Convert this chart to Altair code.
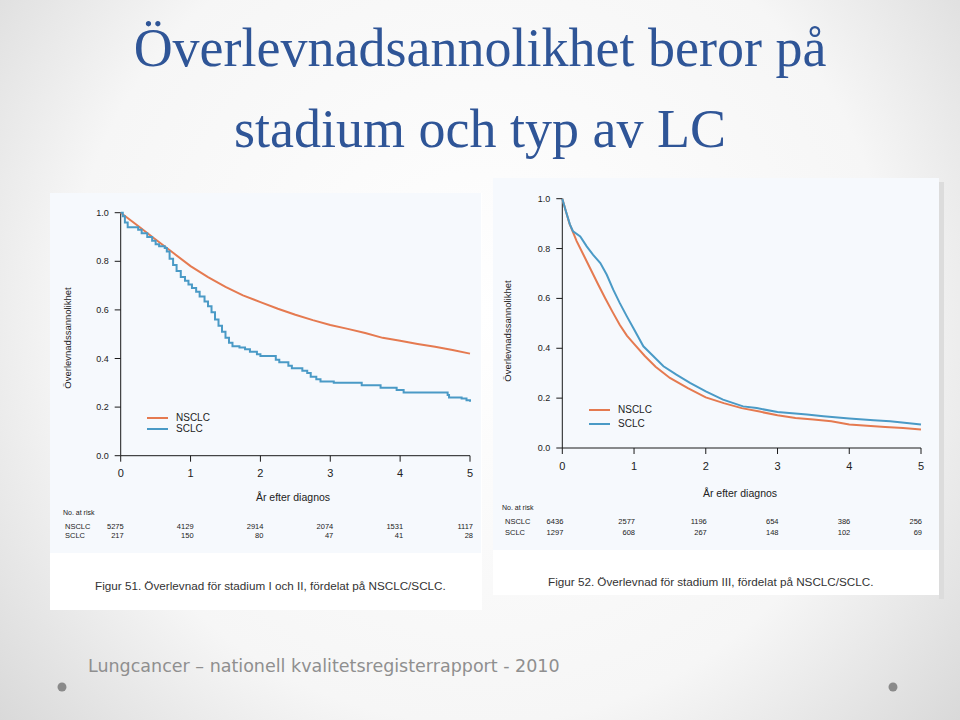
import altair as alt
import pandas as pd

W, H = 960, 720
ORANGE = "#E57A50"
BLUE = "#4A9AC6"
INK = "#1a1a1a"
SERIES = ["NSCLC", "SCLC"]
YEARS = [0, 1, 2, 3, 4, 5]
Y_TICKS = [0.0, 0.2, 0.4, 0.6, 0.8, 1.0]

TITLE_1 = "Överlevnadsannolikhet beror på"
TITLE_2 = "stadium och typ av LC"
FOOTER = "Lungcancer \u2013 nationell kvalitetsregisterrapport - 2010"
CAPTION_L = "Figur 51. Överlevnad för stadium I och II, fördelat på NSCLC/SCLC."
CAPTION_R = "Figur 52. Överlevnad för stadium III, fördelat på NSCLC/SCLC."
Y_TITLE = "Överlevnadssannolikhet"
X_TITLE = "År efter diagnos"
RISK_TITLE = "No. at risk"

# ---- Figure 51 (stadium I och II) ----
L_NSCLC_T = [0, 0.25, 0.5, 0.75, 1, 1.25, 1.5, 1.75, 2, 2.25, 2.5, 2.75, 3, 3.25,
             3.5, 3.75, 4, 4.25, 4.5, 4.75, 5]
L_NSCLC_S = [1.0, 0.945, 0.89, 0.835, 0.78, 0.735, 0.695, 0.66, 0.632, 0.605, 0.58,
             0.558, 0.538, 0.522, 0.505, 0.485, 0.473, 0.46, 0.448, 0.435, 0.42]
L_SCLC_T = [0, 0.03, 0.06, 0.1, 0.25, 0.3, 0.38, 0.45, 0.5, 0.55, 0.63, 0.66, 0.7,
            0.75, 0.8, 0.86, 0.92, 0.97, 1.02, 1.08, 1.13, 1.2, 1.25, 1.3, 1.35, 1.4,
            1.45, 1.5, 1.55, 1.6, 1.7, 1.78, 1.85, 1.95, 2.0, 2.22, 2.27, 2.4, 2.45,
            2.6, 2.67, 2.72, 2.8, 2.86, 3.05, 3.45, 3.72, 3.95, 4.05, 4.68, 4.7, 4.88,
            4.95, 5.0]
L_SCLC_S = [1.0, 0.985, 0.96, 0.94, 0.93, 0.915, 0.9, 0.885, 0.87, 0.862, 0.855, 0.84,
            0.81, 0.785, 0.76, 0.735, 0.72, 0.705, 0.69, 0.675, 0.655, 0.635, 0.615,
            0.59, 0.56, 0.535, 0.51, 0.485, 0.465, 0.45, 0.445, 0.438, 0.428, 0.418,
            0.41, 0.395, 0.385, 0.37, 0.36, 0.35, 0.34, 0.325, 0.315, 0.305, 0.3, 0.29,
            0.28, 0.27, 0.26, 0.25, 0.24, 0.235, 0.228, 0.222]
L_RISK_NSCLC = [5275, 4129, 2914, 2074, 1531, 1117]
L_RISK_SCLC = [217, 150, 80, 47, 41, 28]

# ---- Figure 52 (stadium III) ----
R_NSCLC_T = [0, 0.05, 0.1, 0.2, 0.3, 0.4, 0.5, 0.6, 0.7, 0.8, 0.9, 1.0, 1.15, 1.3,
             1.5, 1.75, 2.0, 2.25, 2.5, 2.75, 3.0, 3.25, 3.5, 3.75, 4.0, 4.25, 4.5,
             4.75, 5.0]
R_NSCLC_S = [1.0, 0.95, 0.9, 0.83, 0.772, 0.714, 0.656, 0.6, 0.546, 0.494, 0.451,
             0.418, 0.369, 0.326, 0.281, 0.24, 0.203, 0.18, 0.16, 0.146, 0.131, 0.12,
             0.114, 0.107, 0.094, 0.089, 0.084, 0.08, 0.074]
R_SCLC_T = [0, 0.05, 0.107, 0.15, 0.25, 0.34, 0.43, 0.53, 0.62, 0.71, 0.8, 0.9, 0.99,
            1.13, 1.27, 1.41, 1.59, 1.78, 2.0, 2.24, 2.52, 2.71, 3.0, 3.41, 3.64, 4.0,
            4.34, 4.57, 5.0]
R_SCLC_S = [1.0, 0.95, 0.896, 0.869, 0.849, 0.809, 0.775, 0.742, 0.695, 0.635, 0.582,
            0.528, 0.481, 0.408, 0.368, 0.328, 0.294, 0.261, 0.227, 0.194, 0.167, 0.16,
            0.144, 0.134, 0.127, 0.118, 0.111, 0.107, 0.094]
R_RISK_NSCLC = [6436, 2577, 1196, 654, 386, 256]
R_RISK_SCLC = [1297, 608, 267, 148, 102, 69]

SANS = "Liberation Sans"
SERIF = "Liberation Serif"


def one():
    return alt.Data(values=[{"k": 1}])


def label(txt, x, y, size, color="#222222", font=SANS, align="left",
          baseline="alphabetic", angle=None, weight="normal"):
    kw = dict(text=txt, fontSize=size, color=color, font=font, align=align,
              baseline=baseline, fontWeight=weight)
    if angle is not None:
        kw["angle"] = angle
    return alt.Chart(one()).mark_text(**kw).encode(x=alt.value(x), y=alt.value(y))


def rect(x, x2, y, y2, fill):
    return alt.Chart(one()).mark_rect(fill=fill).encode(
        x=alt.value(x), x2=alt.value(x2), y=alt.value(y), y2=alt.value(y2))


def curve_df(t, s, name):
    return pd.DataFrame({"t": t, "s": s, "series": name})


def panel(nsclc, sclc, sclc_interp, risk_n, risk_s, xr, yr, risk_rows, risk_dx):
    """All marks of one Kaplan-Meier panel, positioned by its own x/y scales."""
    xs = alt.Scale(domain=[YEARS[0], YEARS[-1]], range=list(xr), nice=False, zero=False)
    ys = alt.Scale(domain=[Y_TICKS[0], Y_TICKS[-1]], range=list(yr), nice=False,
                   zero=False)
    cs = alt.Scale(domain=SERIES, range=[ORANGE, BLUE])
    X = lambda f: alt.X(f, scale=xs, axis=None)
    Y = lambda f: alt.Y(f, scale=ys, axis=None)
    x0, y0 = xr[0], yr[0]
    yrs = pd.DataFrame({"t": YEARS})
    yts = pd.DataFrame({"s": Y_TICKS})
    ext_x = pd.DataFrame({"a": [YEARS[0]], "b": [YEARS[-1]]})
    ext_y = pd.DataFrame({"a": [Y_TICKS[0]], "b": [Y_TICKS[-1]]})

    layers = [
        # x axis: domain, ticks, labels
        alt.Chart(ext_x).mark_rule(color=INK, strokeWidth=1).encode(
            x=X("a:Q"), x2="b:Q", y=alt.value(y0)),
        alt.Chart(yrs).mark_rule(color=INK, strokeWidth=1).encode(
            x=X("t:Q"), y=alt.value(y0), y2=alt.value(y0 + 6)),
        alt.Chart(yrs).mark_text(fontSize=11, font=SANS, color="#222",
                                 baseline="middle").encode(
            x=X("t:Q"), y=alt.value(y0 + 18.5), text=alt.Text("t:Q", format="d")),
        # y axis: domain, ticks, labels
        alt.Chart(ext_y).mark_rule(color=INK, strokeWidth=1).encode(
            y=Y("a:Q"), y2="b:Q", x=alt.value(x0)),
        alt.Chart(yts).mark_rule(color=INK, strokeWidth=1).encode(
            y=Y("s:Q"), x=alt.value(x0 - 6), x2=alt.value(x0)),
        alt.Chart(yts).mark_text(fontSize=9, font=SANS, color="#222", align="right",
                                 baseline="middle").encode(
            y=Y("s:Q"), x=alt.value(x0 - 12), text=alt.Text("s:Q", format=".1f")),
        # survival curves
        alt.Chart(nsclc).mark_line(strokeWidth=2, interpolate="linear").encode(
            x=X("t:Q"), y=Y("s:Q"), color=alt.Color("series:N", scale=cs, legend=None)),
        alt.Chart(sclc).mark_line(strokeWidth=2, interpolate=sclc_interp).encode(
            x=X("t:Q"), y=Y("s:Q"), color=alt.Color("series:N", scale=cs, legend=None)),
    ]
    # numbers at risk
    for vals, ry in zip([risk_n, risk_s], risk_rows):
        df = pd.DataFrame({"t": YEARS, "n": vals})
        layers.append(alt.Chart(df).mark_text(
            fontSize=7.5, font=SANS, color="#222", align="right", baseline="middle",
            dx=risk_dx).encode(
            x=X("t:Q"), y=alt.value(ry), text=alt.Text("n:Q", format="d")))
    return alt.layer(*layers)


def legend(x0, y0, gap):
    out = []
    for i, (name, col) in enumerate(zip(SERIES, [ORANGE, BLUE])):
        yy = y0 + i * gap
        out.append(alt.Chart(one()).mark_rule(color=col, strokeWidth=2).encode(
            x=alt.value(x0), x2=alt.value(x0 + 21), y=alt.value(yy)))
        out.append(label(name, x0 + 29, yy, 10, baseline="middle"))
    return out


def risk_table(x_title, y_title, rows, x_lbl):
    out = [label(RISK_TITLE, x_title, y_title, 7, baseline="middle")]
    for name, ry in zip(SERIES, rows):
        out.append(label(name, x_lbl, ry, 7.5, baseline="middle"))
    return out


bg = alt.Chart(one()).mark_rect(
    fill=alt.RadialGradient(
        gradient="radial", x1=0.5, y1=0.45, x2=0.5, y2=0.45, r1=0, r2=0.78,
        stops=[alt.GradientStop(offset=0, color="#ffffff"),
               alt.GradientStop(offset=0.55, color="#f6f6f6"),
               alt.GradientStop(offset=1, color="#c9c9c9")])
).encode(x=alt.value(0), x2=alt.value(W), y=alt.value(0), y2=alt.value(H))

layers = [bg]
for txt, yy in [(TITLE_1, 66), (TITLE_2, 147)]:
    layers.append(label(txt, 480, yy, 54, color="#2F5597", font=SERIF, align="center"))

# panel backgrounds
layers += [rect(50, 482, 193, 610, "#ffffff"), rect(50, 481, 193, 553, "#f6f9fd"),
           rect(939, 944, 182, 599, "#dcdcdc"),
           rect(493, 939, 178, 595, "#ffffff"), rect(493, 939, 178, 550, "#f6f9fd")]

# left panel (Figur 51)
layers.append(panel(curve_df(L_NSCLC_T, L_NSCLC_S, "NSCLC"),
                    curve_df(L_SCLC_T, L_SCLC_S, "SCLC"), "step-after",
                    L_RISK_NSCLC, L_RISK_SCLC, (120.7, 470), (455.7, 212.7),
                    (526.5, 536), 3))
layers.append(label(Y_TITLE, 68, 338, 9.5, align="center", baseline="middle",
                    angle=270))
layers.append(label(X_TITLE, 293, 498, 10.5, align="center", baseline="middle"))
layers += legend(147, 418, 11)
layers += risk_table(63, 513, (526.5, 536), 65)
layers.append(label(CAPTION_L, 95, 590, 11.7, color="#333333"))

# right panel (Figur 52)
layers.append(panel(curve_df(R_NSCLC_T, R_NSCLC_S, "NSCLC"),
                    curve_df(R_SCLC_T, R_SCLC_S, "SCLC"), "linear",
                    R_RISK_NSCLC, R_RISK_SCLC, (562.3, 921), (448, 198.7),
                    (522, 533), 1))
layers.append(label(Y_TITLE, 508, 331, 9.5, align="center", baseline="middle",
                    angle=270))
layers.append(label(X_TITLE, 740, 494, 10.5, align="center", baseline="middle"))
layers += legend(589, 410, 14)
layers += risk_table(502, 508, (522, 533), 505)
layers.append(label(CAPTION_R, 548, 586, 11.7, color="#333333"))

# footer
layers.append(label(FOOTER, 88, 672, 17.5, color="#8f8f8f", font="DejaVu Sans"))
for dx in [62, 893]:
    layers.append(alt.Chart(one()).mark_point(filled=True, size=80, color="#8a8a8a",
                                              opacity=1).encode(
        x=alt.value(dx), y=alt.value(687)))

chart = alt.layer(*layers).resolve_scale(
    x="independent", y="independent"
).properties(
    width=W, height=H, padding=0, autosize=alt.AutoSizeParams(type="none")
).configure_view(stroke=None)

chart.save("out.html", embed_options={"renderer": "svg", "actions": False})
